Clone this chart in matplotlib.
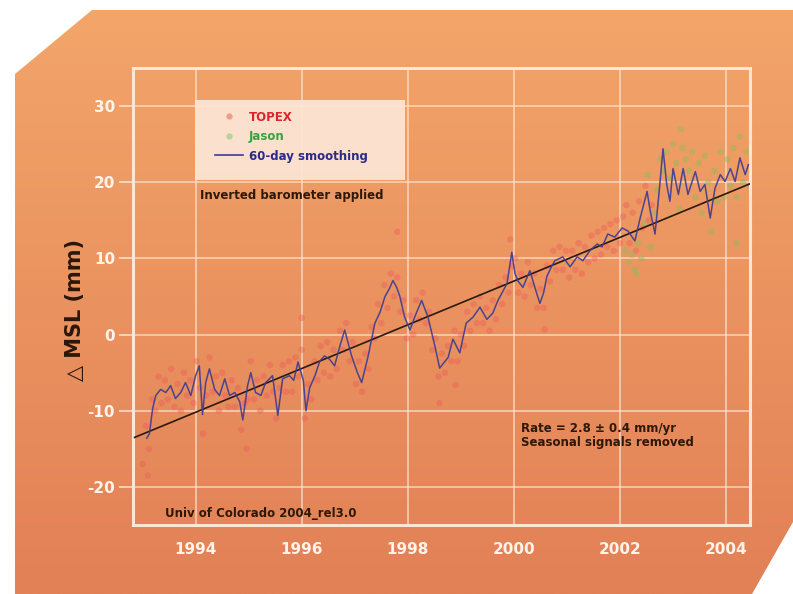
import numpy as np
import matplotlib

matplotlib.use("Agg")
import matplotlib.pyplot as plt
from matplotlib.patches import Polygon, Rectangle
from matplotlib.lines import Line2D

plt.rcParams["axes.unicode_minus"] = False

# 60-day smoothed global mean sea level (mm)
SMOOTH_YEARS = [
    1993.08, 1993.13, 1993.19, 1993.25, 1993.34, 1993.44, 1993.53, 1993.62, 1993.72, 1993.81,
    1993.91, 1994.00, 1994.07, 1994.13, 1994.19, 1994.26, 1994.36, 1994.45, 1994.55, 1994.64,
    1994.74, 1994.83, 1994.89, 1994.98, 1995.04, 1995.13, 1995.23, 1995.32, 1995.45, 1995.55,
    1995.64, 1995.77, 1995.85, 1995.93, 1996.03, 1996.08, 1996.15, 1996.25, 1996.34, 1996.43,
    1996.52, 1996.62, 1996.72, 1996.81, 1996.94, 1997.05, 1997.13, 1997.25, 1997.38, 1997.48,
    1997.57, 1997.65, 1997.72, 1997.79, 1997.85, 1997.94, 1998.04, 1998.13, 1998.26, 1998.38,
    1998.51, 1998.60, 1998.68, 1998.76, 1998.85, 1998.98, 1999.10, 1999.23, 1999.36, 1999.49,
    1999.60, 1999.70, 1999.77, 1999.87, 1999.96, 2000.02, 2000.08, 2000.17, 2000.30, 2000.43,
    2000.49, 2000.56, 2000.62, 2000.70, 2000.77, 2000.92, 2001.06, 2001.19, 2001.30, 2001.43,
    2001.57, 2001.66, 2001.77, 2001.90, 2002.04, 2002.15, 2002.28, 2002.38, 2002.51, 2002.57,
    2002.66, 2002.75, 2002.81, 2002.88, 2002.94, 2003.00, 2003.10, 2003.19, 2003.28, 2003.42,
    2003.51, 2003.60, 2003.70, 2003.79, 2003.89, 2003.98, 2004.08, 2004.17, 2004.26, 2004.36,
    2004.42,
]
SMOOTH_MM = [
    -13.6, -13.0, -9.7, -8.0, -7.2, -7.6, -6.7, -8.4, -7.6, -6.3,
    -8.0, -5.4, -4.1, -10.5, -6.3, -4.5, -7.2, -8.0, -5.8, -8.0,
    -7.6, -8.8, -11.2, -6.7, -5.0, -7.6, -8.0, -6.3, -5.4, -10.6,
    -5.8, -5.4, -6.0, -3.6, -6.0, -10.0, -7.0, -5.4, -3.5, -2.8,
    -3.2, -4.1, -1.5, 0.6, -2.8, -5.0, -6.3, -2.9, 1.5, 3.0,
    5.0, 6.0, 7.1, 6.2, 5.0, 2.3, 0.6, 2.3, 4.5, 2.3,
    -1.5, -4.4, -3.7, -3.0, -0.6, -2.4, 1.5, 2.3, 3.6, 2.0,
    2.8, 4.5, 5.4, 6.7, 10.8, 8.0, 7.0, 6.2, 8.4, 5.4,
    4.1, 5.5, 7.6, 8.8, 9.7, 10.2, 8.9, 10.2, 9.7, 11.0,
    11.9, 11.5, 13.2, 12.8, 14.0, 13.6, 12.3, 15.3, 18.8, 16.2,
    13.2, 19.7, 24.4, 19.7, 17.5, 21.8, 18.4, 21.8, 18.4, 21.4,
    18.8, 19.7, 15.3, 19.2, 21.0, 20.1, 21.8, 20.1, 23.2, 21.0,
    22.3,
]

# TOPEX cycles (every ~0.06 yr from 1993.00 to 2002.60) plus a few outliers
TOPEX_YEARS = list(np.round(np.arange(1993.0, 2002.61, 0.06), 2)) + [
    1993.10, 1994.96, 1996.00, 1997.80, 1998.60, 1998.90, 1999.93, 2000.58,
]
TOPEX_MM = [
    -17.0, -12.0, -15.0, -8.5, -10.0, -5.5, -9.0, -6.0, -8.5, -4.5,
    -9.5, -6.5, -10.0, -5.0, -8.0, -6.0, -9.0, -3.5, -7.0, -13.0,
    -8.0, -3.0, -7.5, -5.5, -10.0, -5.0, -8.0, -9.5, -6.0, -9.5,
    -7.0, -12.5, -9.0, -8.5, -3.5, -8.5, -6.0, -10.0, -5.5, -8.0,
    -4.0, -7.5, -11.0, -7.0, -4.0, -7.5, -3.5, -7.5, -3.0, -5.5,
    -2.0, -11.0, -6.5, -8.5, -3.5, -6.0, -1.5, -5.0, -1.0, -5.5,
    -2.0, -4.5, 0.5, -2.0, 1.5, -3.5, -1.0, -6.5, -3.5, -7.5,
    -2.5, -4.5, 1.0, -0.5, 4.0, 1.5, 6.5, 3.5, 8.0, 5.0,
    7.5, 3.0, 4.5, -0.5, 2.5, 0.0, 4.5, 2.0, 5.5, 1.5,
    3.0, -2.0, -0.5, -5.5, -2.5, -5.0, -1.5, -3.5, 0.5, -3.5,
    0.0, -1.5, 3.0, 0.5, 4.0, 1.5, 5.0, 1.5, 3.5, 0.5,
    4.5, 2.0, 6.5, 4.0, 7.5, 5.5, 9.0, 10.0, 5.5, 8.0,
    5.0, 9.5, 6.5, 8.0, 3.5, 6.0, 3.5, 9.0, 7.0, 11.0,
    8.5, 11.5, 8.5, 11.0, 7.5, 11.0, 8.5, 12.0, 8.0, 11.5,
    9.5, 13.0, 10.0, 13.5, 10.5, 14.0, 11.5, 14.5, 11.0, 15.0,
    12.0, 15.5, 17.0, 12.0, 16.0, 11.0, 17.5, 14.0, 19.5, 15.0,
    17.0,
    -18.5, -15.0, 2.2, 13.5, -9.0, -6.6, 12.5, 0.7,
]

# Jason cycles (2002.10 to 2004.44) plus a few outliers
JASON_YEARS = list(np.round(np.arange(2002.10, 2004.45, 0.06), 2)) + [2003.15, 2004.20, 2002.30]
JASON_MM = [
    11.0, 9.5, 10.5, 8.5, 12.0, 10.0, 14.5, 21.0, 11.5, 16.0,
    19.0, 23.0, 21.5, 24.0, 20.5, 25.0, 22.5, 16.5, 24.5, 23.0,
    21.5, 24.0, 18.0, 22.5, 16.0, 23.5, 20.0, 13.5, 21.5, 17.5,
    24.0, 18.0, 23.0, 19.5, 24.5, 18.0, 26.0, 20.0, 24.0, 19.5,
    27.0, 12.0, 8.0,
]

TREND_YEARS = [1992.85, 2004.45]
TREND_MM = [-13.5, 19.8]

Y_TICKS = [-20, -10, 0, 10, 20, 30]
X_TICKS = [1994, 1996, 1998, 2000, 2002, 2004]

W, H = 793, 594
fig = plt.figure(figsize=(W / 100, H / 100), dpi=100)
fig.patch.set_facecolor("white")

# orange panel with chamfered corners and a soft vertical gradient
bg = fig.add_axes([0, 0, 1, 1], zorder=-5)
bg.set_xlim(0, W)
bg.set_ylim(H, 0)
bg.axis("off")
top = np.array([243, 166, 106]) / 255
bottom = np.array([226, 128, 86]) / 255
t = np.linspace(0, 1, 300)[:, None]
grad = top[None, None, :] * (1 - t[..., None]) + bottom[None, None, :] * t[..., None]
grad = np.repeat(grad, 2, axis=1)
img = bg.imshow(grad, extent=[0, W, H, 0], aspect="auto", interpolation="bilinear")
panel = Polygon([(15, 74), (92, 10), (W, 10), (W, 522), (752, H), (15, H)],
                closed=True, transform=bg.transData, facecolor="none", edgecolor="none")
bg.add_patch(panel)
img.set_clip_path(panel)

ax = fig.add_axes([133 / W, 1 - 525 / H, 617 / W, 457 / H])
ax.set_facecolor("none")
ax.set_xlim(1992.82, 2004.45)
ax.set_ylim(-25, 35)

frame_col = "#fde6d2"
for side in ax.spines.values():
    side.set_color(frame_col)
    side.set_linewidth(2.2)

ax.set_yticks(Y_TICKS)
ax.set_xticks(X_TICKS)
ax.grid(color="#fde6d2", linewidth=1.1, alpha=0.8)
ax.set_axisbelow(True)
ax.tick_params(axis="y", direction="out", length=10, width=1.1, color=frame_col, pad=3)
ax.tick_params(axis="x", length=0, pad=12)
for lab in ax.get_xticklabels() + ax.get_yticklabels():
    lab.set_color("#fff4ea")
    lab.set_fontweight("bold")
    lab.set_fontsize(11)

ax.set_ylabel("△ MSL (mm)", fontsize=15, fontweight="bold", color="#2a1608")
ax.yaxis.set_label_coords(-0.078, 0.47)

ax.scatter(TOPEX_YEARS, TOPEX_MM, s=22, color="#ee5a5a", alpha=0.4, edgecolors="none", zorder=2)
ax.scatter(JASON_YEARS, JASON_MM, s=22, color="#98b85a", alpha=0.5, edgecolors="none", zorder=2)
ax.plot(TREND_YEARS, TREND_MM, color="#2b1a10", linewidth=1.2, zorder=3)
ax.plot(SMOOTH_YEARS, SMOOTH_MM, color="#3c3a94", linewidth=1.1, alpha=0.9, zorder=4)

# legend box
ax.add_patch(Rectangle((0.1005, 0.755), 0.340, 0.175, transform=ax.transAxes,
                       facecolor="#fce4d4", edgecolor="none", alpha=0.95, zorder=5))
handles = [
    Line2D([], [], linestyle="none", marker="o", markersize=3.5, color="#f0a08a"),
    Line2D([], [], linestyle="none", marker="o", markersize=3.5, color="#b8d49a"),
    Line2D([], [], color="#3c3a94", linewidth=1.2),
]
leg = ax.legend(handles, ["TOPEX", "Jason", "60-day smoothing"], loc="upper left",
                bbox_to_anchor=(0.115, 0.93), frameon=False, handlelength=2.4,
                handletextpad=0.5, labelspacing=0.55, prop={"weight": "bold", "size": 8.5})
leg.set_zorder(6)
for txt, col in zip(leg.get_texts(), ["#d8262c", "#3aa040", "#2a2a88"]):
    txt.set_color(col)

text_col = "#2e1808"
ax.text(0.108, 0.72, "Inverted barometer applied", transform=ax.transAxes,
        fontsize=8.5, fontweight="bold", color=text_col, va="center", zorder=6)
ax.text(0.629, 0.212, "Rate = 2.8 ± 0.4 mm/yr", transform=ax.transAxes,
        fontsize=8.5, fontweight="bold", color=text_col, va="center", zorder=6)
ax.text(0.629, 0.180, "Seasonal signals removed", transform=ax.transAxes,
        fontsize=8.5, fontweight="bold", color=text_col, va="center", zorder=6)
ax.text(0.052, 0.025, "Univ of Colorado 2004_rel3.0", transform=ax.transAxes,
        fontsize=8.5, fontweight="bold", color=text_col, va="center", zorder=6)

fig.savefig("out.png", dpi=100)
